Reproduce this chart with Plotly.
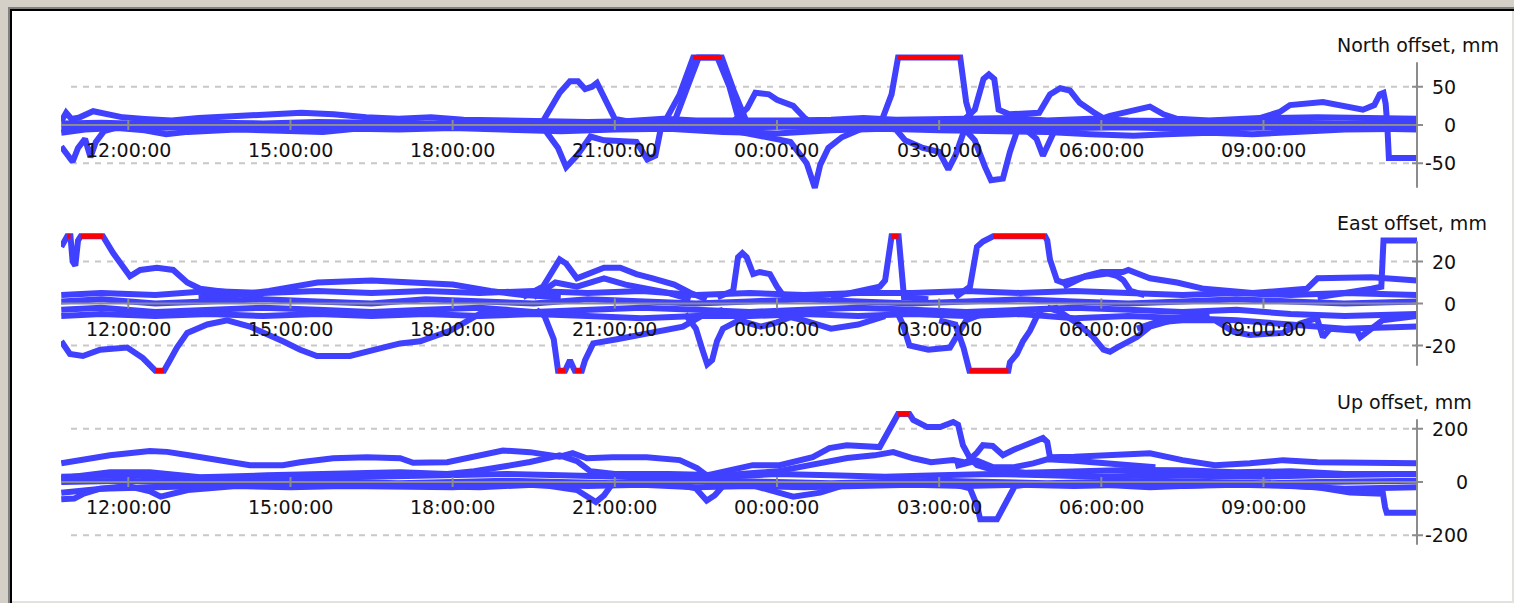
import pandas as pd
import plotly.graph_objects as go

W, H = 1514, 603
BASE = pd.Timestamp("2011-05-10")
FONT = "DejaVu Sans"
BLUE = "#4040ff"
RED = "#ff0000"
AXIS_GRAY = "#8c8c8c"
LINE_W = 6

# time axis (hours since midnight of the first day)
X_START, X_END = 10.755, 35.84
TICK_HOURS = [12, 15, 18, 21, 24, 27, 30, 33]
TICK_LABELS = ["12:00:00", "15:00:00", "18:00:00", "21:00:00",
               "00:00:00", "03:00:00", "06:00:00", "09:00:00"]

# ---------------- North offset, mm : (hour, value) ----------------
north_band1 = [(10.76, 5), (10.85, 16), (10.95, 8), (11.1, 10), (11.35, 18), (11.6, 14), (11.9, 10),
               (12.3, 8), (12.8, 6), (13.3, 9), (14.0, 11), (14.6, 13), (15.2, 16), (15.8, 14),
               (16.4, 10), (17.0, 8), (17.6, 10), (18.2, 7), (18.8, 6), (19.5, 5), (20.5, 4),
               (21.2, 5), (21.9, 8), (22.5, 6), (23.5, 5), (24.3, 6), (25.0, 7), (25.6, 9),
               (26.2, 7), (27.8, 8), (28.4, 9), (29.0, 6), (29.8, 8), (30.5, 6), (31.5, 5),
               (32.5, 6), (33.2, 9), (34.0, 10), (34.8, 9), (35.5, 8), (35.84, 8)]
north_band2 = [(10.76, 2), (11.5, 3), (12.5, 1), (13.5, 3), (14.5, 2), (15.5, 4), (16.5, 3),
               (17.5, 2), (18.5, 3), (19.5, 1), (20.5, 2), (21.5, 3), (22.5, 1), (23.5, 2),
               (24.5, 3), (25.5, 2), (26.5, 3), (27.5, 2), (28.5, 4), (29.5, 3), (30.5, 2),
               (31.5, 3), (32.5, 2), (33.5, 3), (34.5, 2), (35.84, 3)]
north_band3 = [(10.76, -3), (11.5, -2), (12.5, -4), (13.5, -2), (14.5, -3), (15.5, -2), (16.5, -4),
               (17.5, -3), (18.5, -2), (19.5, -4), (20.5, -3), (21.5, -2), (22.5, -4), (23.5, -3),
               (24.5, -2), (25.5, -3), (26.5, -4), (27.5, -3), (28.5, -2), (29.5, -4), (30.5, -3),
               (31.5, -5), (32.5, -4), (33.5, -3), (34.5, -4), (35.84, -6)]
north_band4 = [(10.76, -10), (11.2, -6), (11.8, -4), (12.3, -7), (12.7, -12), (13.1, -9), (14.0, -6),
               (15.0, -7), (15.6, -9), (16.2, -5), (17.0, -6), (18.0, -4), (19.0, -6), (20.0, -8),
               (21.0, -6), (22.0, -5), (23.0, -9), (24.0, -11), (25.0, -7), (26.0, -5), (27.0, -7),
               (28.0, -8), (29.0, -9), (29.8, -12), (30.6, -14), (31.2, -12), (32.0, -10),
               (32.8, -12), (33.5, -9), (34.5, -6), (35.84, -5)]
north_s = [(10.76, -28), (10.85, -38), (10.97, -48), (11.07, -30), (11.2, -18), (11.3, -42),
           (11.4, -22), (11.55, -8), (11.8, -3), (12.2, -2)]
north_b = [(18.8, 3), (19.3, 2), (19.67, 5), (19.85, 25), (19.98, 42), (20.17, 57), (20.32, 57),
           (20.45, 47), (20.58, 50), (20.67, 55), (20.82, 35), (21.0, 8), (21.3, 4), (21.6, 3)]
north_c = [(18.8, -2), (19.67, -3), (19.95, -30), (20.1, -55), (20.3, -40), (20.55, -15),
           (20.8, -20), (21.4, -22), (21.6, -45), (21.75, -40), (21.85, -5), (22.2, -3)]
north_d = [(21.5, 3), (21.93, 5), (22.2, 40), (22.45, 88), (22.9, 88), (23.12, 50), (23.3, 5), (23.6, 3)]
north_e = [(21.7, 1), (22.1, 4), (22.4, 60), (22.55, 88), (22.98, 88), (23.2, 45), (23.45, 2), (23.8, 1)]
north_f = [(23.0, 3), (23.2, 5), (23.45, 22), (23.6, 42), (23.85, 40), (24.0, 33), (24.3, 25),
           (24.5, 10), (24.65, 2)]
north_g = [(22.8, -2), (23.1, -6), (23.5, -12), (24.25, -22), (24.55, -50), (24.7, -82),
           (24.8, -52), (24.95, -30), (25.2, -16), (25.6, -4), (26.0, -2)]
north_h = [(25.5, 4), (25.95, 8), (26.12, 40), (26.24, 88), (27.39, 88), (27.5, 30), (27.6, 5), (27.8, 3)]
north_i = [(27.4, 3), (27.66, 20), (27.82, 60), (27.92, 66), (28.02, 60), (28.1, 20), (28.3, 14),
           (28.85, 16), (29.05, 40), (29.24, 48), (29.42, 45), (29.6, 29), (29.85, 17),
           (30.1, 6), (30.4, 4)]
north_k = [(25.9, -3), (26.2, -6), (26.37, -20), (26.7, -30), (27.0, -35), (27.17, -58),
           (27.3, -40), (27.45, -10), (27.6, -4)]
north_l = [(27.45, -4), (27.66, -20), (27.85, -55), (27.96, -72), (28.18, -70), (28.31, -35),
           (28.45, -6), (28.7, -3)]
north_m = [(28.55, -3), (28.8, -18), (28.92, -40), (29.02, -25), (29.15, -5), (29.4, -3)]
north_n = [(29.8, 3), (30.16, 12), (30.66, 20), (30.9, 24), (31.15, 14), (31.4, 8), (32.0, 6),
           (32.93, 9), (33.3, 17), (33.49, 26), (34.1, 30), (34.5, 25), (34.84, 20), (35.05, 26),
           (35.15, 40), (35.22, 42), (35.26, 28), (35.29, 0), (35.32, -43), (35.84, -43)]

# ---------------- East offset, mm ----------------
east_band1 = [(10.76, 4), (11.5, 5), (12.5, 4), (13.5, 6), (14.5, 5), (15.5, 6), (16.5, 5),
              (17.5, 6), (18.5, 5), (19.5, 6), (20.5, 5), (21.5, 6), (22.5, 4), (23.5, 5),
              (24.5, 4), (25.5, 5), (26.5, 5), (27.5, 6), (28.5, 5), (29.5, 6), (30.5, 5),
              (31.5, 4), (32.5, 5), (33.5, 4), (34.5, 5), (35.84, 4)]
east_band2 = [(10.76, 1), (11.5, 2), (12.5, 0), (13.5, 1), (14.5, 2), (15.5, 1), (16.5, 0),
              (17.5, 2), (18.5, 1), (19.5, 0), (20.5, 2), (21.5, 1), (22.5, 0), (23.5, 1),
              (24.5, 2), (25.5, 1), (26.5, 0), (27.5, 1), (28.5, 2), (29.5, 1), (30.5, 0),
              (31.5, 1), (32.5, 2), (33.5, 1), (34.5, 0), (35.84, 1)]
east_band3 = [(10.76, -3), (11.5, -2), (12.5, -4), (13.5, -3), (14.5, -2), (15.5, -3), (16.5, -4),
              (17.5, -3), (18.5, -2), (19.5, -4), (20.5, -3), (21.5, -2), (22.5, -3), (23.5, -4),
              (24.5, -3), (25.5, -2), (26.5, -3), (27.5, -4), (28.5, -3), (29.5, -2), (30.5, -3),
              (31.5, -4), (32.5, -3), (33.5, -5), (34.5, -6), (35.84, -5)]
east_band4 = [(10.76, -6), (11.5, -5), (12.5, -6), (13.5, -5), (14.5, -6), (15.5, -5), (16.5, -6),
              (17.5, -5), (18.5, -6), (19.5, -5), (20.5, -6), (21.5, -7), (22.5, -6), (23.5, -6),
              (24.5, -5), (25.5, -6), (26.5, -5), (27.5, -6), (28.5, -5), (29.5, -7), (30.5, -6),
              (31.5, -7), (32.5, -8), (33.5, -10), (34.5, -12), (35.84, -11)]
east_1 = [(10.76, 27), (10.82, 30), (10.87, 32), (10.93, 32), (10.97, 20), (11.02, 18), (11.07, 30),
          (11.12, 32), (11.53, 32), (11.72, 24), (11.9, 17), (12.03, 13), (12.22, 16), (12.53, 17),
          (12.83, 16), (13.09, 10), (13.33, 7), (13.94, 5), (14.5, 4)]
east_2 = [(10.76, -18), (10.92, -24), (11.16, -25), (11.48, -22), (11.98, -21), (12.27, -26),
          (12.5, -32), (12.66, -32), (12.77, -27), (12.9, -21), (13.09, -14), (13.46, -10),
          (13.83, -8), (14.25, -11), (14.86, -18), (15.18, -22), (15.49, -25), (16.1, -25),
          (16.71, -21), (17.03, -19), (17.4, -18), (17.95, -13), (18.5, -5), (19.0, -3)]
east_3 = [(13.3, 3), (14.0, 4), (14.6, 6), (15.0, 8), (15.5, 10), (16.5, 11), (17.5, 10),
          (18.0, 9), (18.7, 6), (19.3, 4), (20.0, 3)]
east_4 = [(19.3, 3), (19.67, 8), (19.98, 21), (20.1, 19), (20.3, 12), (20.6, 15), (20.8, 17),
          (21.1, 17), (21.4, 14), (21.7, 12), (22.1, 9), (22.4, 5), (22.7, 2)]
east_5 = [(19.5, 3), (19.9, 10), (20.3, 8), (20.8, 12), (21.2, 9), (21.6, 7), (22.0, 5), (22.4, 2)]
east_6 = [(19.55, -3), (19.7, -6), (19.87, -17), (19.95, -32), (20.08, -32), (20.17, -27),
          (20.26, -32), (20.39, -32), (20.45, -27), (20.6, -19), (21.04, -17), (21.65, -14),
          (22.26, -11), (22.6, -6), (23.0, -3)]
east_7 = [(22.9, 3), (23.19, 6), (23.28, 22), (23.36, 24), (23.44, 22), (23.56, 14), (23.68, 15),
          (23.87, 14), (24.0, 8), (24.11, 4), (24.4, 2)]
east_8 = [(22.3, -5), (22.5, -12), (22.62, -22), (22.71, -29), (22.8, -27), (22.89, -18),
          (23.0, -12), (23.3, -8), (23.7, -11), (24.0, -9), (24.4, -5)]
east_9 = [(25.0, 3), (25.9, 8), (26.0, 11), (26.08, 25), (26.12, 32), (26.25, 32), (26.3, 20),
          (26.35, 3), (26.8, 2)]
east_10 = [(27.3, 3), (27.57, 8), (27.7, 27), (27.81, 29.5), (28.0, 32), (28.96, 32), (29.0, 30),
           (29.05, 21), (29.18, 11), (29.29, 10), (29.66, 12.6), (30.11, 14.3), (30.3, 13),
           (30.41, 11), (30.54, 6), (30.8, 4)]
east_11 = [(29.3, 8), (29.7, 13), (30.0, 15), (30.4, 15), (30.5, 16), (30.9, 12), (31.4, 10),
           (31.9, 7), (32.8, 5), (33.5, 6), (33.8, 7), (34.0, 12), (34.5, 12), (35.0, 12.5),
           (35.84, 11)]
east_12 = [(34.0, 3), (34.6, 5), (35.0, 7), (35.18, 8), (35.22, 30), (35.84, 30)]
east_13 = [(27.0, -8), (27.3, -10), (27.45, -21), (27.52, -27), (27.56, -32), (28.28, -32),
           (28.31, -28), (28.44, -24), (28.55, -18), (28.68, -13), (28.81, -6), (28.9, -3), (29.2, -2)]
east_14 = [(26.2, -3), (26.33, -10), (26.45, -20), (26.8, -22), (27.2, -21), (27.35, -15),
           (27.5, -8), (27.8, -5)]
east_15 = [(29.0, -2), (29.24, -4), (29.56, -9.5), (29.85, -16), (30.04, -22), (30.16, -23),
           (30.29, -21), (30.66, -16), (30.9, -11), (31.51, -6.5), (32.0, -5)]
east_16 = [(30.66, -12), (31.0, -9), (31.5, -8), (32.1, -8), (32.45, -13.5), (32.75, -15),
           (33.36, -14), (33.68, -9.5), (33.99, -7), (34.1, -16), (34.23, -12), (34.73, -13),
           (34.79, -16), (35.2, -8), (35.84, -6)]
east_17 = [(24.0, -5), (24.5, -8), (25.0, -12), (25.5, -10), (26.0, -6)]

# ---------------- Up offset, mm ----------------
up_band1 = [(10.76, 20), (12.0, 25), (13.0, 15), (14.0, 20), (15.0, 22), (16.0, 18), (17.0, 22),
            (18.0, 25), (19.0, 30), (20.0, 25), (21.0, 20), (22.0, 15), (23.0, 20), (24.0, 30),
            (25.0, 25), (26.0, 20), (27.0, 25), (28.0, 30), (29.0, 25), (30.0, 20), (31.0, 25),
            (32.0, 22), (33.0, 20), (34.0, 25), (35.84, 30)]
up_band2 = [(10.76, 0), (12.0, 5), (13.0, -5), (14.0, 0), (15.0, 5), (16.0, 0), (17.0, -5),
            (18.0, 0), (19.0, 5), (20.0, 0), (21.0, -5), (22.0, 0), (23.0, 5), (24.0, 0),
            (25.0, -5), (26.0, 0), (27.0, 5), (28.0, 0), (29.0, -5), (30.0, 0), (31.0, 5),
            (32.0, 0), (33.0, -5), (34.0, 0), (35.84, 5)]
up_band3 = [(10.76, -40), (11.5, -25), (12.5, -20), (13.5, -15), (14.5, -10), (15.5, -15),
            (16.5, -10), (17.5, -15), (18.5, -20), (19.5, -10), (20.5, -15), (21.5, -10),
            (22.5, -20), (23.5, -15), (24.5, -20), (25.5, -15), (26.5, -10), (27.5, -15),
            (28.5, -10), (29.5, -15), (30.5, -10), (31.5, -15), (32.5, -10), (33.5, -15),
            (34.5, -25), (35.84, -20)]
up_1 = [(10.76, 70), (11.16, 82), (11.66, 100), (12.4, 116), (12.72, 113), (13.09, 101),
        (13.64, 82), (14.25, 63), (14.86, 63), (15.18, 74), (15.79, 89), (16.42, 93), (17.03, 89),
        (17.27, 72), (17.9, 74), (18.51, 100), (18.93, 118), (19.43, 112), (19.98, 95),
        (20.22, 108), (20.48, 89), (20.96, 93), (21.59, 93), (22.2, 82), (22.52, 52), (22.7, 25),
        (23.13, 44), (23.55, 63), (24.05, 63), (24.66, 93), (24.97, 127), (25.29, 138),
        (25.9, 131), (26.08, 200), (26.15, 225), (26.24, 255), (26.45, 255), (26.52, 233),
        (26.78, 206), (27.02, 206), (27.26, 225), (27.35, 215), (27.44, 138), (27.57, 89),
        (27.7, 63), (28.0, 45), (28.6, 35), (29.5, 40), (30.5, 45), (31.5, 44), (32.5, 37),
        (33.5, 40), (34.5, 30), (35.84, 30)]
up_2 = [(10.76, 14), (11.66, 37), (12.4, 37), (13.33, 18), (14.56, 25), (15.79, 33), (17.03, 37),
        (17.9, 30), (18.4, 40), (19.0, 60), (19.43, 75), (19.98, 100), (20.3, 78), (20.55, 40),
        (21.0, 30), (22.0, 30), (23.0, 25), (24.0, 40), (24.7, 70), (25.3, 90), (25.8, 100),
        (26.15, 112), (26.52, 89), (26.85, 74), (27.26, 82), (27.5, 72), (27.7, 110),
        (27.81, 138), (27.99, 135), (28.18, 101), (28.37, 120), (28.74, 150), (28.92, 165),
        (29.0, 150), (29.05, 93), (29.5, 95), (30.0, 100), (30.5, 103), (30.9, 108), (31.5, 82),
        (32.1, 63), (32.75, 70), (33.36, 82), (34.0, 74), (35.0, 74), (35.84, 70)]
up_3 = [(19.0, -5), (19.8, -15), (20.3, -30), (20.65, -75), (20.8, -50), (20.96, -5), (21.5, 0)]
up_4 = [(22.0, -5), (22.5, -24), (22.7, -70), (22.85, -50), (23.0, -15), (23.5, -10)]
up_7 = [(27.3, 60), (27.7, 80), (28.0, 55), (28.37, 55), (28.74, 70), (29.0, 85), (29.5, 80),
        (30.0, 70), (30.5, 60), (31.0, 55)]
up_8 = [(27.2, -5), (27.57, -24), (27.7, -88), (27.76, -140), (28.07, -140), (28.18, -100),
        (28.31, -50), (28.4, -15), (28.8, -5)]
up_9 = [(23.5, -10), (24.05, -40), (24.3, -55), (24.8, -40), (25.2, -15), (25.8, -5)]
up_11 = [(29.5, -5), (30.9, -20), (32.75, -5), (34.0, -20), (34.6, -39), (35.21, -44),
         (35.25, -95), (35.28, -115), (35.84, -115)]
up_12 = [(10.76, -65), (11.0, -62), (11.16, -45), (11.48, -25), (12.0, -15), (12.4, -35),
         (12.6, -55), (12.85, -40), (13.1, -30), (14.0, -15), (15.0, -20), (16.0, -15),
         (17.0, -15), (18.0, -20), (19.0, -10), (20.0, -5)]

NORTH = [north_band1, north_band2, north_band3, north_band4, north_s, north_b, north_c, north_d,
         north_e, north_f, north_g, north_h, north_i, north_k, north_l, north_m, north_n]
EAST = [east_band1, east_band2, east_band3, east_band4, east_1, east_2, east_3, east_4, east_5,
        east_6, east_7, east_8, east_9, east_10, east_11, east_12, east_13, east_14, east_15,
        east_16, east_17]
UP = [up_band1, up_band2, up_band3, up_12, up_3, up_4, up_9, up_8, up_11, up_7, up_1, up_2]

# panel geometry: name, series, clip level, axis extent, grid/tick values,
# zero line pixel row, pixels per mm, half range, label right edge, title row
PANELS = [
    ("North offset, mm", NORTH, 88, 82, [-50, 0, 50], 125.0, 0.766, 95, 1458, 45),
    ("East offset, mm", EAST, 32, 29.7, [-20, 0, 20], 303.5, 2.1, 36, 1458, 223),
    ("Up offset, mm", UP, 255, 235, [-200, 0, 200], 482.0, 0.2667, 280, 1470, 402),
]

PLOT_LEFT, PLOT_RIGHT, GRID_LEFT = 61, 1417, 71


def to_time(hours):
    return BASE + pd.to_timedelta(hours, unit="h")


fig = go.Figure()
layout_axes = {}
shapes = []
annotations = []

for i, (title, series, clip, extent, ticks, zero_px, ppm, half, lab_right, title_px) in enumerate(PANELS):
    n = "" if i == 0 else str(i + 1)
    xa, ya = "x" + n, "y" + n
    top_px = zero_px - half * ppm
    bot_px = zero_px + half * ppm
    layout_axes["xaxis" + n] = dict(
        domain=[PLOT_LEFT / W, PLOT_RIGHT / W], anchor=ya, type="date",
        range=[to_time(X_START), to_time(X_END)], visible=False, fixedrange=True)
    layout_axes["yaxis" + n] = dict(
        domain=[1 - bot_px / H, 1 - top_px / H], anchor=xa, range=[-half, half],
        visible=False, fixedrange=True)

    # blue traces, then red where the value sits at the clip level
    for s in series:
        hrs = [p[0] for p in s]
        vals = [max(-clip, min(clip, p[1])) for p in s]
        fig.add_trace(go.Scatter(x=to_time(pd.Series(hrs)), y=vals, xaxis=xa, yaxis=ya,
                                 mode="lines", line=dict(color=BLUE, width=LINE_W),
                                 hoverinfo="skip", showlegend=False))
    for s in series:
        hrs = [p[0] for p in s]
        reds = [v if abs(v) >= clip else None for v in (p[1] for p in s)]
        if sum(r is not None for r in reds) >= 2:
            fig.add_trace(go.Scatter(x=to_time(pd.Series(hrs)), y=reds, xaxis=xa, yaxis=ya,
                                     mode="lines", line=dict(color=RED, width=LINE_W - 1),
                                     connectgaps=False, hoverinfo="skip", showlegend=False))

    # dashed grid lines
    for v in ticks:
        if v != 0:
            shapes.append(dict(type="line", xref="paper", yref=ya, x0=GRID_LEFT / W,
                               x1=PLOT_RIGHT / W, y0=v, y1=v, layer="below",
                               line=dict(color="#c8c8c8", width=2, dash="6px,6px")))
    # zero line with time ticks
    shapes.append(dict(type="line", xref=xa + " domain", yref=ya, x0=0, x1=1, y0=0, y1=0,
                       layer="above", line=dict(color=AXIS_GRAY, width=2)))
    for h in TICK_HOURS:
        shapes.append(dict(type="line", xref=xa, yref=ya, x0=to_time(h), x1=to_time(h),
                           ysizemode="pixel", yanchor=0, y0=-5, y1=5, layer="above",
                           line=dict(color=AXIS_GRAY, width=2)))
    for h, lab in zip(TICK_HOURS, TICK_LABELS):
        annotations.append(dict(x=to_time(h), y=0, xref=xa, yref=ya, text=lab, showarrow=False,
                                yshift=-25, xanchor="center", yanchor="middle",
                                font=dict(family=FONT, size=19, color="#111111")))
    # value axis on the right
    shapes.append(dict(type="line", xref="paper", yref=ya, x0=PLOT_RIGHT / W, x1=PLOT_RIGHT / W,
                       y0=-extent, y1=extent, layer="above",
                       line=dict(color=AXIS_GRAY, width=2)))
    for v in ticks:
        shapes.append(dict(type="line", xref="paper", yref=ya, x0=(PLOT_RIGHT - 5) / W,
                           x1=(PLOT_RIGHT + 6) / W, y0=v, y1=v, layer="above",
                           line=dict(color=AXIS_GRAY, width=2)))
        annotations.append(dict(x=lab_right / W, y=v, xref="paper", yref=ya, text=str(v),
                                showarrow=False, xanchor="right", yanchor="middle",
                                font=dict(family=FONT, size=19, color="#111111")))
    annotations.append(dict(x=1335 / W, y=1 - title_px / H, xref="paper", yref="paper",
                            text=title, showarrow=False, xanchor="left", yanchor="middle",
                            font=dict(family=FONT, size=19, color="#111111")))


def px_rect(x0, y0, x1, y1, color):
    return dict(type="rect", xref="paper", yref="paper", x0=x0 / W, x1=x1 / W,
                y0=1 - y1 / H, y1=1 - y0 / H, fillcolor=color, line=dict(width=0),
                layer="below")


# sunken window frame around the chart
frame = [
    px_rect(8, 7, W, H, "#808080"),
    px_rect(10, 9, W, H, "#000000"),
    px_rect(12, 11, 1512, 601, "#ffffff"),
    px_rect(12, 601, W, H, "#e4e2dc"),
    px_rect(1512, 11, W, H, "#e4e2dc"),
]

fig.update_layout(
    width=W, height=H,
    margin=dict(l=0, r=0, t=0, b=0, autoexpand=False),
    paper_bgcolor="#d4d0c8", plot_bgcolor="rgba(0,0,0,0)",
    showlegend=False,
    shapes=frame + shapes,
    annotations=annotations,
    **layout_axes,
)

fig.write_html("out.html")
